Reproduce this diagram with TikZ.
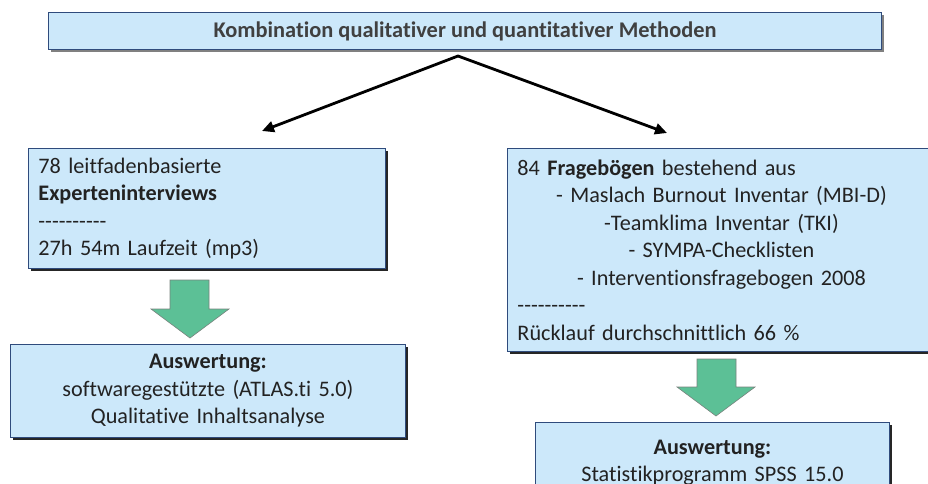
\documentclass[tikz,border=0pt]{standalone}
\usepackage{fontspec}
\setmainfont{Carlito}[Ligatures={TeX,NoCommon}]
\usepackage{tikz}
\usetikzlibrary{arrows.meta,shadows}
\definecolor{boxfill}{RGB}{204,232,250}
\definecolor{boxline}{RGB}{47,75,124}
\definecolor{textgray}{RGB}{34,34,34}
\definecolor{titlegray}{RGB}{64,64,64}
\definecolor{shadegray}{RGB}{128,128,128}
\definecolor{shadedark}{RGB}{38,38,38}
\definecolor{arrowgreen}{RGB}{92,192,150}
\definecolor{arrowedge}{RGB}{120,130,125}
\newcommand{\bodyfont}{\fontsize{22.2}{27.5}\selectfont}
\newcommand{\titlefont}{\fontsize{22.4}{26}\selectfont\bfseries}
\newcommand{\sepline}{-{}-{}-{}-{}-{}-{}-{}-{}-{}-{}}
\newcommand{\midline}[1]{\makebox[\hsize][c]{#1}}

\begin{document}
\begin{tikzpicture}[
  x=1pt, y=-1pt,
  plainbox/.style = {
    rectangle, draw=boxline, line width=0.9pt, fill=boxfill,
    inner xsep=10pt, inner ysep=0pt, text=textgray, font=\bodyfont
  },
  box/.style = {
    plainbox, anchor=north west,
    drop shadow={shadow xshift=3pt, shadow yshift=-3pt, fill=shadedark, opacity=1}
  },
  titlebox/.style = {
    plainbox, anchor=north west, align=center, text=titlegray, font=\titlefont,
    drop shadow={shadow xshift=2.5pt, shadow yshift=-2.5pt, fill=shadegray, opacity=1}
  },
  split/.style = {{Triangle[length=12pt,width=11pt]}-{Triangle[length=12pt,width=11pt]}, line width=2.8pt, line join=miter},
  downarrow/.style = {fill=arrowgreen, draw=arrowedge, line width=0.6pt}
]
  \useasboundingbox (0,0) rectangle (928,483);

  \node[titlebox, minimum width=833pt, minimum height=37pt] (methods) at (48,12)
    {Kombination qualitativer und quantitativer Methoden};

  \node[box, text width=337pt, minimum height=120pt, align=left] (interviews) at (28,148)
    {78 leitfadenbasierte\\\textbf{Experteninterviews}\\\sepline\\27h 54m Laufzeit (mp3)};
  \node[box, text width=408pt, minimum height=203pt, align=left] (surveys) at (507,148)
    {84 \textbf{Fragebögen} bestehend aus\\
     \midline{- Maslach Burnout Inventar (MBI-D)}\\
     \midline{-Teamklima Inventar (TKI)}\\
     \midline{- SYMPA-Checklisten}\\
     \midline{- Interventionsfragebogen 2008}\\
     \sepline\\Rücklauf durchschnittlich 66 \%};

  \node[box, text width=375pt, minimum height=93pt, align=center] (qualeval) at (10,344)
    {\textbf{Auswertung:}\\softwaregestützte (ATLAS.ti 5.0)\\Qualitative Inhaltsanalyse};
  \node[box, text width=334pt, minimum height=80pt, align=center] (quanteval) at (535,422)
    {\textbf{Auswertung:}\\Statistikprogramm SPSS 15.0};

  % fork below the title box
  \coordinate (fork) at (458,56);
  \coordinate (leftend) at (262,131);
  \coordinate (rightend) at (667,133);
  \draw[split] (leftend) -- (fork) -- (rightend);

  % block arrows
  \filldraw[downarrow] (170,280) -- (209,280) -- (209,309) -- (229,309) -- (190,338) -- (151,309) -- (170,309) -- cycle;
  \filldraw[downarrow] (697,359) -- (736,359) -- (736,387) -- (755,387) -- (716,416) -- (677,387) -- (697,387) -- cycle;
\end{tikzpicture}
\end{document}
